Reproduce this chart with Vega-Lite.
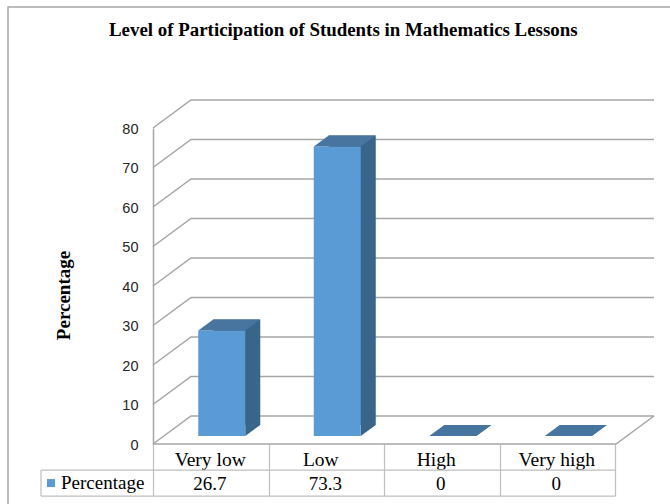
{
"$schema":"https://vega.github.io/schema/vega-lite/v6.json",
"width":462,"height":316,
"autosize":"none",
"padding":{"left":153,"top":128,"right":55,"bottom":60},
"background":"white",
"title":{"text":"Level of Participation of Students in Mathematics Lessons","font":"Liberation Serif","fontSize":18.9,"fontWeight":"bold","color":"black","anchor":"start","frame":"group","dx":-44,"offset":-36},
"config":{"view":{"stroke":null}},
"datasets":{
"bars":[{"level":"Very low","pct":26.7},{"level":"Low","pct":73.3},{"level":"High","pct":0},{"level":"Very high","pct":0}],
"ticks":[{"t":0},{"t":10},{"t":20},{"t":30},{"t":40},{"t":50},{"t":60},{"t":70},{"t":80}]
},
"data":{"name":"bars"},
"encoding":{
"x":{"field":"level","type":"nominal","sort":null,"scale":{"domain":["Very low","Low","High","Very high"],"paddingInner":0,"paddingOuter":0},
"axis":{"title":null,"labelAngle":0,"domain":false,"ticks":true,"tickColor":"#bfbfbf","tickWidth":1.2,"tickBand":"extent","tickSize":52,"labelPadding":-46,"labelFont":"Liberation Serif","labelFontSize":19.5,"labelColor":"black","labelOffset":{"condition":{"test":"datum.value==='Low' || datum.value==='High'","value":-6},"value":-1}}},
"y":{"field":"pct","type":"quantitative","scale":{"domain":[0,80],"nice":false},
"axis":{"title":"Percentage","titleFont":"Liberation Serif","titleFontSize":19,"titleFontWeight":"bold","titleColor":"black","titleX":-80,"titleY":167,"values":[0,10,20,30,40,50,60,70,80],"grid":false,"ticks":false,"domainColor":"#a6a6a6","domainWidth":1.5,"labelFont":"Liberation Sans","labelFontSize":14.5,"labelColor":"#262626","labelPadding":15,"labelOffset":1}}
},
"layer":[
{"data":{"name":"ticks"},
 "mark":{"type":"point","filled":false,"stroke":"#a6a6a6","strokeWidth":1.5,"size":4,"shape":"M0,0L38,-28H501","opacity":1},
 "encoding":{"x":{"datum":"Very low","bandPosition":0},"y":{"field":"t","type":"quantitative"}}},
{"mark":{"type":"point","filled":false,"stroke":"#a6a6a6","strokeWidth":1.5,"size":4,"shape":"M0,0H463L501,-28","opacity":1},
 "transform":[{"filter":"datum.level==='Very low'"}],
 "encoding":{"x":{"datum":"Very low","bandPosition":0},"y":{"datum":0}}},
{"mark":{"type":"point","filled":false,"stroke":"#a6a6a6","strokeWidth":1.5,"size":4,"shape":"M-145,376V-121H517","opacity":1},
 "transform":[{"filter":"datum.level==='Very low'"}],
 "encoding":{"x":{"datum":"Very low","bandPosition":0},"y":{"datum":80}}},
{"mark":{"type":"bar","size":47,"color":"#39658b","xOffset":26,"yOffset":-19,"y2Offset":-19,"opacity":1},
 "encoding":{"y2":{"datum":0}}},
{"mark":{"type":"point","filled":true,"fill":"#39658b","stroke":null,"size":4,"opacity":1,"shape":"M23.5,0L38.5,-11H23.5Z","xOffset":11,"yOffset":-8},
 "encoding":{"y":{"datum":0}}},
{"mark":{"type":"bar","size":47,"color":"#5b9bd5","xOffset":11,"yOffset":-8,"y2Offset":-8,"opacity":1},
 "encoding":{"y2":{"datum":0}}},
{"mark":{"type":"point","filled":true,"fill":"#4775a0","stroke":null,"size":4,"opacity":1,"shape":"M-23.5,0H23.5L38.5,-11H-8.5Z","xOffset":11,"yOffset":-8}},
{"mark":{"type":"point","filled":false,"stroke":"#bfbfbf","strokeWidth":1.2,"size":4,"opacity":1,"shape":"M-112,0H462M-112,26H462M-112,0V26"},
 "transform":[{"filter":"datum.level==='Very low'"}],
 "encoding":{"x":{"datum":"Very low","bandPosition":0},"y":{"datum":-6.6}}},
{"mark":{"type":"text","text":"Percentage","font":"Liberation Serif","fontSize":19,"color":"black","align":"left","baseline":"middle","dx":-92,"dy":13},
 "transform":[{"filter":"datum.level==='Very low'"}],
 "encoding":{"x":{"datum":"Very low","bandPosition":0},"y":{"datum":-6.6}}},
{"mark":{"type":"square","filled":true,"color":"#5b9bd5","size":64,"opacity":1,"xOffset":-102,"yOffset":13},
 "transform":[{"filter":"datum.level==='Very low'"}],
 "encoding":{"x":{"datum":"Very low","bandPosition":0},"y":{"datum":-6.6}}},
{"mark":{"type":"text","font":"Liberation Serif","fontSize":19,"color":"black","baseline":"middle","dy":14,"dx":-1},
 "encoding":{"y":{"datum":-6.6},"text":{"field":"pct","type":"nominal"}}}
]
}
